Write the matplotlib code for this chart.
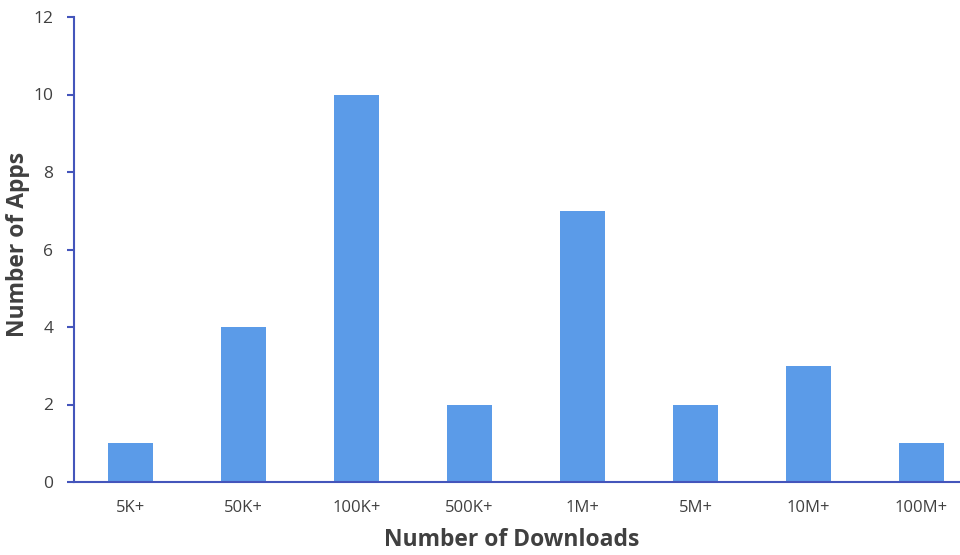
import matplotlib
matplotlib.use("Agg")
import matplotlib.pyplot as plt

categories = ["5K+", "50K+", "100K+", "500K+", "1M+", "5M+", "10M+", "100M+"]
values = [1, 4, 10, 2, 7, 2, 3, 1]
yticks = [0, 2, 4, 6, 8, 10, 12]

plt.rcParams['font.family'] = ['Open Sans', 'DejaVu Sans']

fig = plt.figure(figsize=(9.6, 5.55), dpi=100)
ax = fig.add_axes([74/960, (555-482)/555, 1 - 74/960, (482-17)/555])

x = list(range(len(categories)))
ax.bar(x, values, width=0.40, color="#5B9BE8", zorder=2)

axis_color = "#4455BB"
ax.set_xlim(-0.5, 7.34)
ax.set_ylim(0, 12)
ax.set_yticks(yticks)
ax.set_xticks(x)
ax.set_xticklabels(categories)

for s in ["top", "right"]:
    ax.spines[s].set_visible(False)
ax.spines["left"].set_color(axis_color)
ax.spines["bottom"].set_color(axis_color)
ax.spines["left"].set_linewidth(1.5)
ax.spines["bottom"].set_linewidth(1.5)

ax.tick_params(axis="y", direction="out", length=5, width=1.5, color=axis_color,
               labelsize=12.5, labelcolor="#404040", pad=10)
ax.tick_params(axis="x", length=0, labelsize=12, labelcolor="#404040", pad=13)

ax.set_xlabel("Number of Downloads", fontsize=16.5, fontweight="bold", color="#404040")
ax.set_ylabel("Number of Apps", fontsize=16.5, fontweight="bold", color="#404040")
ax.xaxis.set_label_coords((512 - 74) / 886, (482 - 540) / 465)
ax.xaxis.label.set_va("center")
ax.yaxis.set_label_coords((18 - 74) / 886, 0.51)
ax.yaxis.label.set_va("center")

fig.savefig("out.png", dpi=100)
